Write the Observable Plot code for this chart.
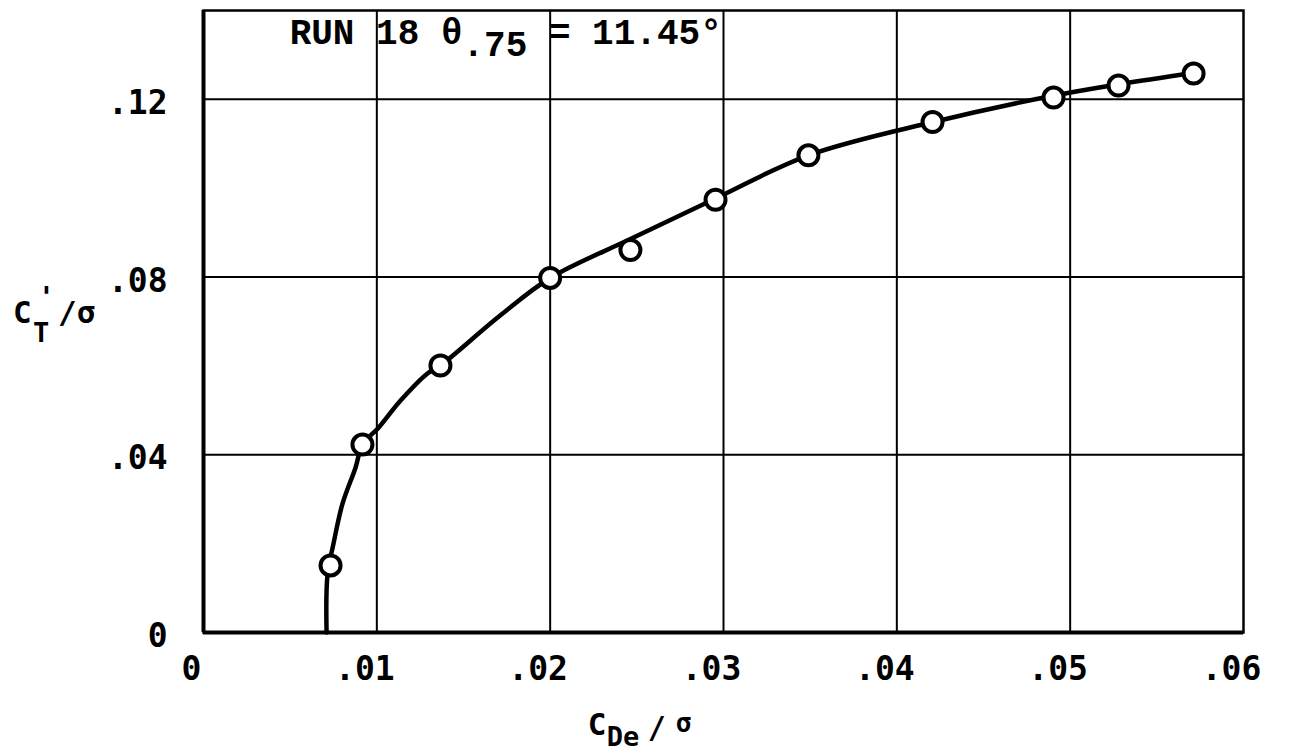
<!DOCTYPE html>
<html>
<head>
<meta charset="utf-8">
<script src="https://cdn.jsdelivr.net/npm/d3@7"></script>
<script src="https://cdn.jsdelivr.net/npm/@observablehq/plot@0.6"></script>
<style>
  html, body { margin: 0; padding: 0; background: #fff; overflow: hidden; }
  #chart { width: 1295px; height: 751px; }
</style>
</head>
<body>
<div id="chart"></div>
<script>
// Tick values
const xTicks = [0, 0.01, 0.02, 0.03, 0.04, 0.05, 0.06];
const yTicks = [0, 0.04, 0.08, 0.12];

// Measured data points (C_De/σ, C'_T/σ)
const pointX = [0.00733, 0.00917, 0.01367, 0.02000, 0.02463, 0.02954, 0.0349, 0.04206, 0.04904, 0.05279, 0.05712];
const pointY = [0.0151, 0.0423, 0.0601, 0.0798, 0.0861, 0.0974, 0.1074, 0.1149, 0.1204, 0.1231, 0.1258];

// Faired curve through the data
const curveX = [0.00710, 0.00715, 0.00750, 0.00802, 0.00877, 0.00917, 0.01010, 0.01137, 0.01292, 0.01367, 0.01713, 0.02000, 0.02460, 0.02960, 0.03490, 0.04210, 0.04900, 0.05280, 0.05720];
const curveY = [0, 0.0128, 0.0200, 0.0290, 0.0371, 0.0423, 0.0461, 0.0522, 0.0583, 0.0601, 0.0714, 0.0798, 0.0885, 0.0978, 0.1074, 0.1149, 0.1208, 0.1234, 0.1260];

const points = pointX.map((x, i) => ({x, y: pointY[i]}));
const curve = curveX.map((x, i) => ({x, y: curveY[i]}));

const fmt = d => d === 0 ? "0" : d3.format(".2f")(d).replace(/^0/, "");

const chart = Plot.plot({
  width: 1295,
  height: 751,
  marginLeft: 203,
  marginRight: 52,
  marginTop: 10,
  marginBottom: 119,
  style: {fontFamily: "DejaVu Sans Mono", fontSize: "33px", background: "#fff", color: "#000"},
  x: {domain: [0, 0.06]},
  y: {domain: [0, 0.14]},
  marks: [
    Plot.gridX(xTicks.filter(d => d > 0 && d < 0.06), {stroke: "#000", strokeOpacity: 1, strokeWidth: 2}),
    Plot.gridY(yTicks.filter(d => d > 0), {stroke: "#000", strokeOpacity: 1, strokeWidth: 2}),
    Plot.frame({stroke: "#000", strokeWidth: 2.5}),
    Plot.ruleX([0], {stroke: "#000", strokeWidth: 4}),
    Plot.ruleY([0], {stroke: "#000", strokeWidth: 4}),
    Plot.axisX(xTicks, {tickSize: 0, tickPadding: 24, tickFormat: fmt, fontWeight: "bold", fontSize: 33, dx: -12, label: null}),
    Plot.axisY(yTicks, {tickSize: 0, tickPadding: 36, tickFormat: fmt, fontWeight: "bold", fontSize: 33, dy: 4, label: null}),
    Plot.line(curve, {x: "x", y: "y", curve: "catmull-rom", stroke: "#000", strokeWidth: 4.5}),
    Plot.dot(points, {x: "x", y: "y", r: 10, fill: "#fff", stroke: "#000", strokeWidth: 4})
  ]
});

document.getElementById("chart").appendChild(chart);

const svg = d3.select(chart);
const sx = chart.scale("x");
const sy = chart.scale("y");

// Title inside the frame
const tx = sx.apply(0.005);
const ty = sy.apply(0.14) + 34;
const title = svg.append("text")
  .attr("x", tx).attr("y", ty)
  .attr("text-anchor", "start")
  .attr("font-family", "Liberation Mono")
  .attr("font-size", 36)
  .attr("font-weight", "bold")
  .style("white-space", "pre")
  .attr("fill", "#000");
title.append("tspan").text("RUN 18 \u03b8");
title.append("tspan").attr("dy", 12).text(".75");
title.append("tspan").attr("dy", -12).text(" = 11.45\u00b0");

// Y axis label: C'_T / σ
const yl = svg.append("g")
  .attr("font-family", "DejaVu Sans Mono")
  .attr("font-weight", "bold")
  .attr("text-anchor", "start")
  .attr("fill", "#000");
const ly = sy.apply(0.075);
yl.append("text").attr("x", 13).attr("y", ly + 24).attr("font-size", 31).text("C");
yl.append("text").attr("x", 33).attr("y", ly + 43).attr("font-size", 27).text("T");
yl.append("text").attr("x", 38).attr("y", ly + 8).attr("font-size", 28).text("'");
yl.append("text").attr("x", 58).attr("y", ly + 24).attr("font-size", 31).text("/\u03c3");

// X axis label: C_De / σ
const xl = svg.append("g")
  .attr("font-family", "DejaVu Sans Mono")
  .attr("font-weight", "bold")
  .attr("text-anchor", "start")
  .attr("fill", "#000");
const lx = sx.apply(0.0222);
xl.append("text").attr("x", lx).attr("y", 735).attr("font-size", 31).text("C");
xl.append("text").attr("x", lx + 19).attr("y", 746).attr("font-size", 27).text("De");
xl.append("text").attr("x", lx + 60).attr("y", 738).attr("font-size", 30).text("/");
xl.append("text").attr("x", lx + 88).attr("y", 732).attr("font-size", 26).text("\u03c3");
</script>
</body>
</html>
